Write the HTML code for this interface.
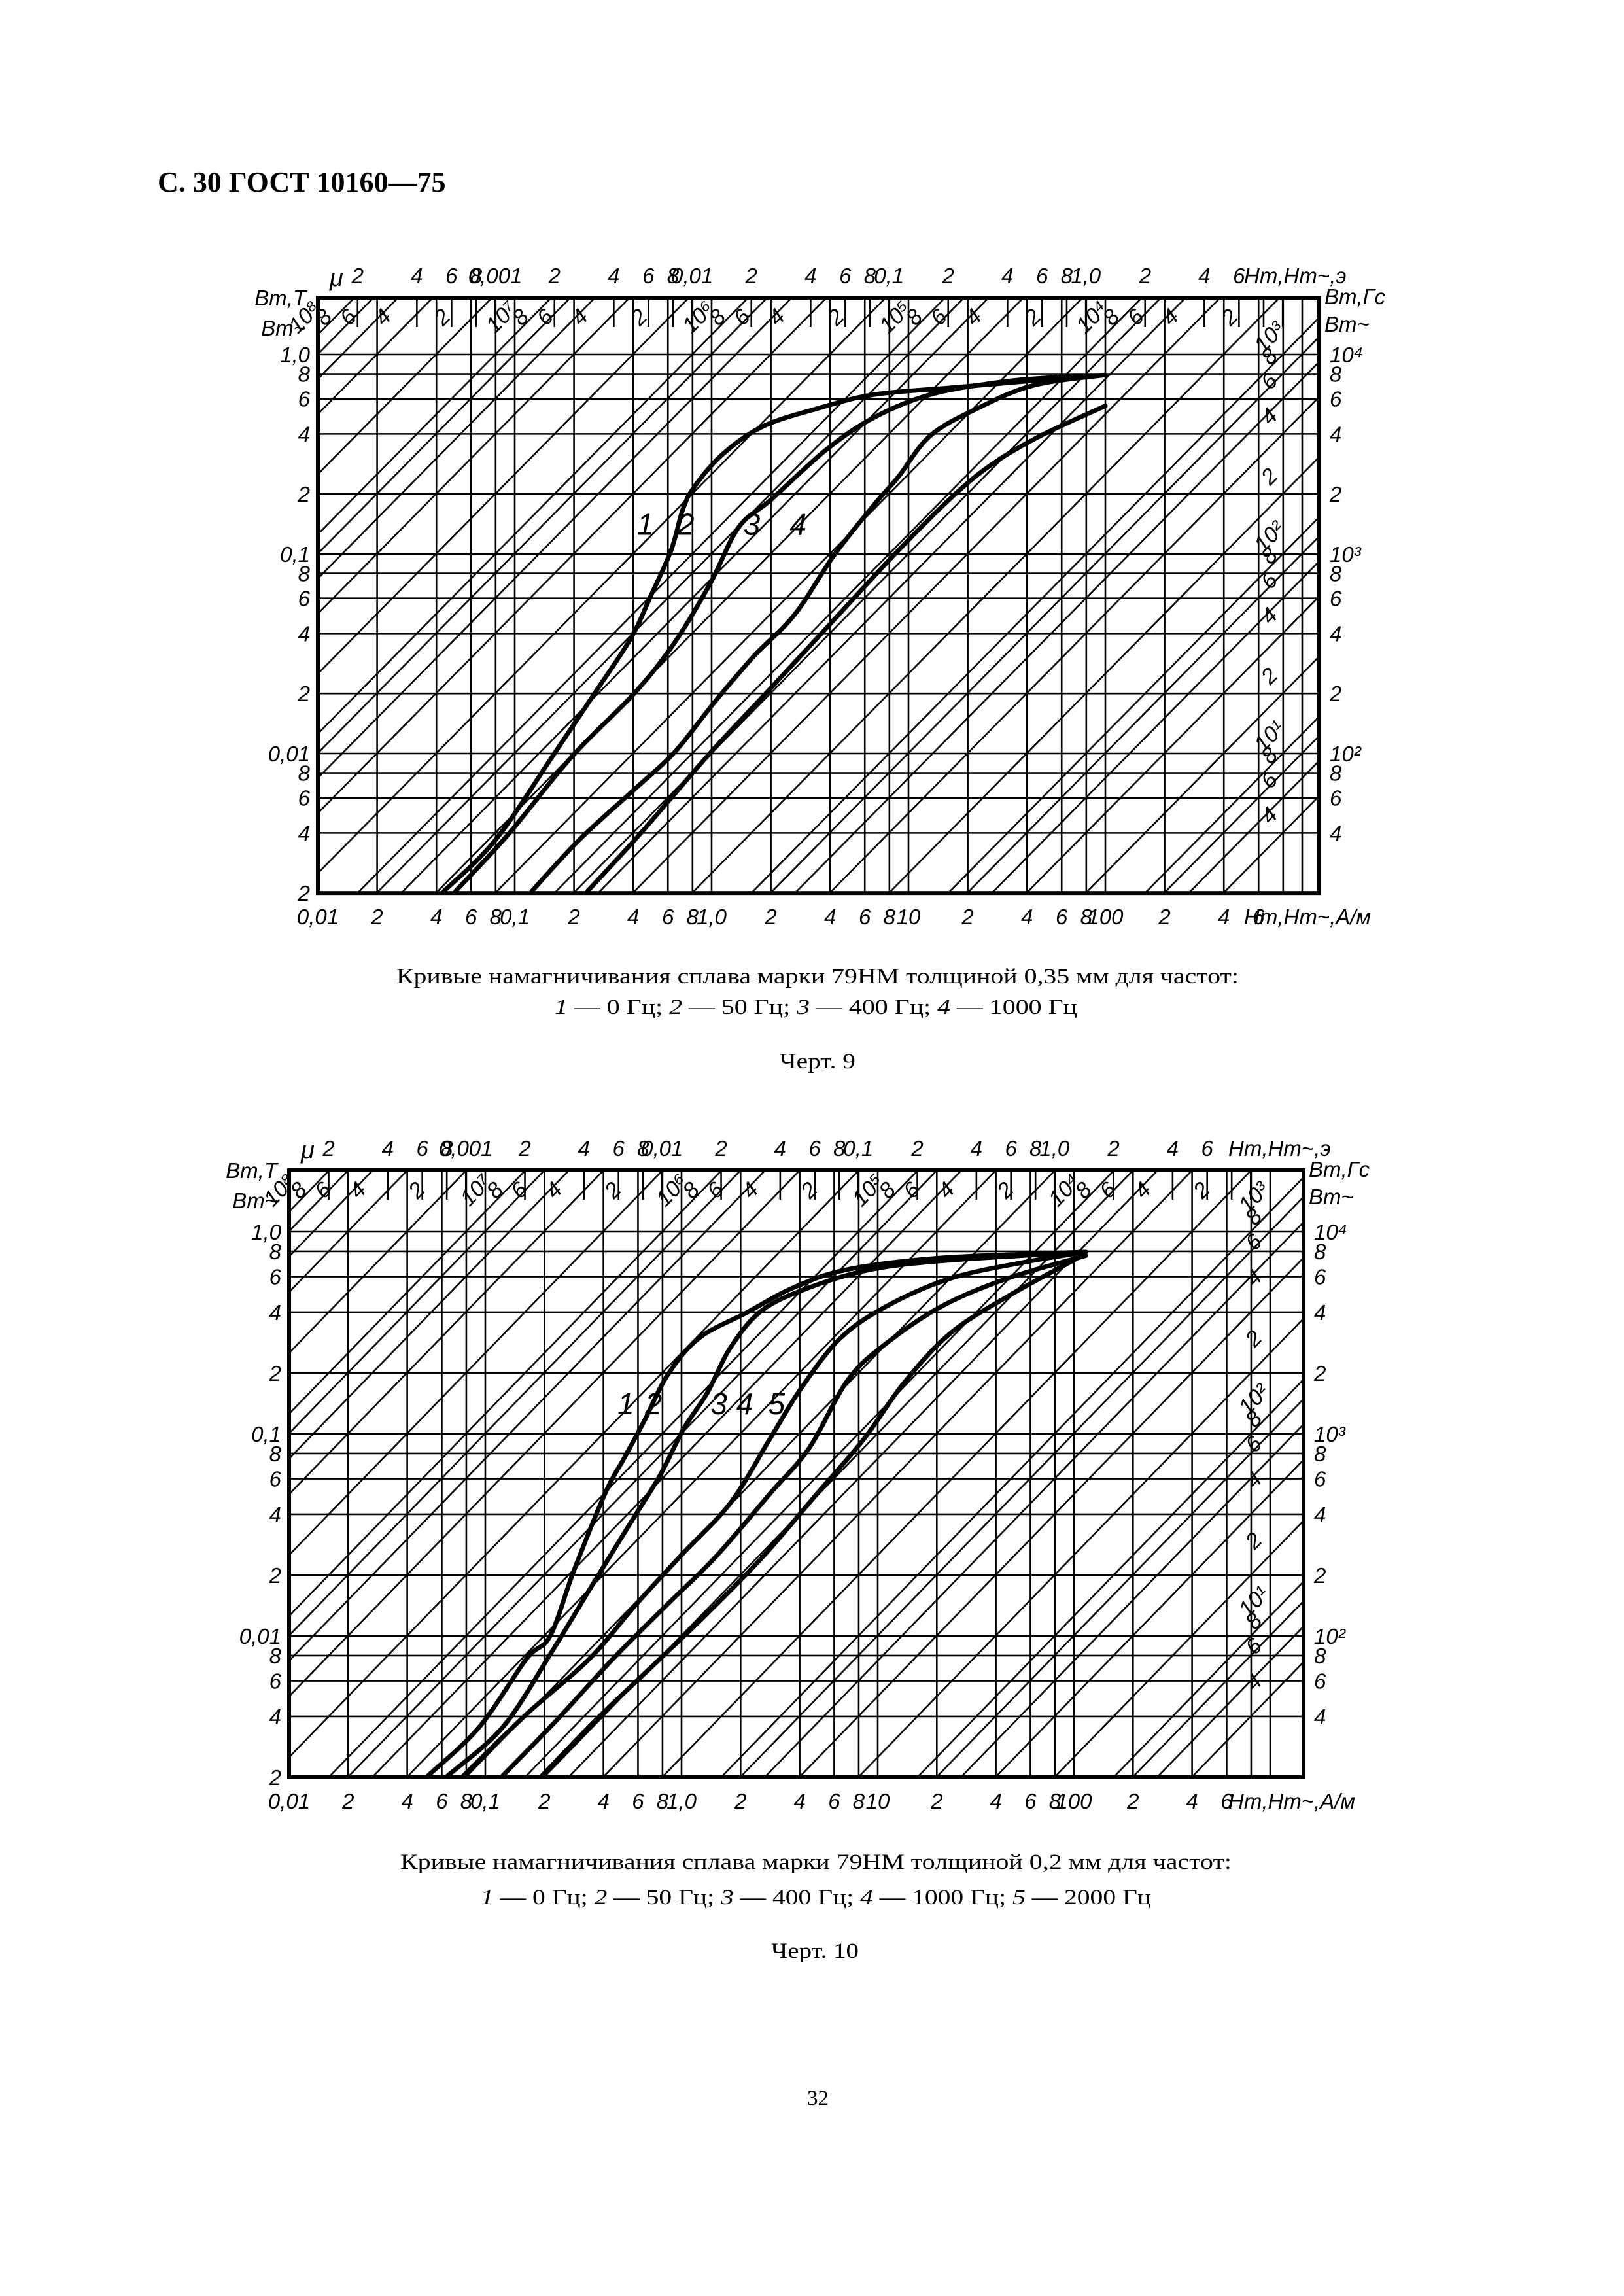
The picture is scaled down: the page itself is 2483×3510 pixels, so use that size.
<!DOCTYPE html>
<html><head><meta charset="utf-8">
<style>
html,body{margin:0;padding:0;background:#fff;}
svg{display:block;}
.ser{font-family:"Liberation Serif",serif;}
</style></head>
<body>
<svg id="page" width="2483" height="3510" viewBox="0 0 2483 3510" xmlns="http://www.w3.org/2000/svg">
<rect width="2483" height="3510" fill="#fff"/>
<text class="ser" x="241" y="293" font-size="44" font-weight="bold">С. 30 ГОСТ 10160—75</text>
<g id="chart1"></g>
<g id="chart2"></g>
<text class="ser" x="606" y="1503" font-size="33" textLength="1288" lengthAdjust="spacingAndGlyphs">Кривые намагничивания сплава марки 79НМ толщиной 0,35 мм для частот:</text>
<text class="ser" x="848" y="1550" font-size="33" textLength="799" lengthAdjust="spacingAndGlyphs"><tspan font-style="italic">1</tspan> — 0 Гц; <tspan font-style="italic">2</tspan> — 50 Гц; <tspan font-style="italic">3</tspan> — 400 Гц; <tspan font-style="italic">4</tspan> — 1000 Гц</text>
<text class="ser" x="1192" y="1633" font-size="33" textLength="116" lengthAdjust="spacingAndGlyphs">Черт. 9</text>
<text class="ser" x="612" y="2857" font-size="33" textLength="1271" lengthAdjust="spacingAndGlyphs">Кривые намагничивания сплава марки 79НМ толщиной 0,2 мм для частот:</text>
<text class="ser" x="735" y="2911" font-size="33" textLength="1025" lengthAdjust="spacingAndGlyphs"><tspan font-style="italic">1</tspan> — 0 Гц; <tspan font-style="italic">2</tspan> — 50 Гц; <tspan font-style="italic">3</tspan> — 400 Гц; <tspan font-style="italic">4</tspan> — 1000 Гц; <tspan font-style="italic">5</tspan> — 2000 Гц</text>
<text class="ser" x="1179" y="2993" font-size="33" textLength="134" lengthAdjust="spacingAndGlyphs">Черт. 10</text>
<text class="ser" x="1234" y="3218" font-size="33">32</text>
</svg>
<script>
// ---- Chart 9 data (H in A/m, B in T) ----
const c9_curve1_H = [0.0436,0.08,0.161,0.256,0.39,0.49,0.622,0.715,0.822,1.14,1.82,3.49,6.7,17,43,100];
const c9_curve1_B = [0.00204,0.0037,0.0102,0.0202,0.038,0.0615,0.104,0.168,0.219,0.317,0.436,0.538,0.63,0.683,0.74,0.79];
const c9_curve2_H = [0.05,0.092,0.194,0.408,0.651,0.99,1.37,2.0,3.83,6.7,12.9,27,47,100];
const c9_curve2_B = [0.00204,0.0039,0.0096,0.0202,0.0362,0.072,0.136,0.187,0.334,0.484,0.63,0.72,0.76,0.79];
const c9_curve3_H = [0.122,0.213,0.408,0.651,1.04,1.65,2.64,4.2,6.7,8.86,12.9,22.5,43,100];
const c9_curve3_B = [0.00204,0.0037,0.00665,0.0102,0.0182,0.031,0.0497,0.099,0.177,0.243,0.392,0.538,0.70,0.79];
const c9_curve4_H = [0.234,0.408,0.651,1.04,2.0,4.2,8.86,17,27,47,100];
const c9_curve4_B = [0.00204,0.0037,0.0063,0.0107,0.0213,0.047,0.104,0.197,0.285,0.392,0.553];
// ---- Chart 10 data ----
const c10_curve1_H = [0.0512,0.0933,0.162,0.214,0.282,0.407,0.513,0.646,0.851,1.23,2.14,3.72,7.08,21.4,115];
const c10_curve1_B = [0.00204,0.00355,0.0077,0.01,0.0209,0.0505,0.0766,0.116,0.196,0.298,0.397,0.529,0.652,0.743,0.794];
const c10_curve2_H = [0.0645,0.123,0.214,0.339,0.537,0.776,1.02,1.35,1.78,2.57,4.47,9.33,23.4,115];
const c10_curve2_B = [0.00204,0.00355,0.0081,0.0169,0.035,0.0622,0.105,0.159,0.268,0.408,0.529,0.652,0.723,0.794];
const c10_curve3_H = [0.0776,0.162,0.339,0.589,1.02,1.78,2.82,4.07,6.46,11.2,23.4,55,115];
const c10_curve3_B = [0.00204,0.0041,0.0077,0.0144,0.0257,0.0457,0.0944,0.168,0.298,0.43,0.587,0.705,0.794];
const c10_curve4_H = [0.123,0.235,0.447,0.851,1.48,2.82,4.47,7.08,11.2,21.4,45.7,115];
const c10_curve4_B = [0.00204,0.0039,0.0077,0.0144,0.0244,0.0505,0.085,0.186,0.283,0.43,0.587,0.762];
const c10_curve5_H = [0.195,0.372,0.776,1.35,2.57,4.9,8.51,13.5,23.4,45.7,105];
const c10_curve5_B = [0.00204,0.0039,0.0077,0.0129,0.0244,0.0505,0.0944,0.177,0.314,0.477,0.743];
// curve label anchors (H, B)
const c9_labelH = [0.46,0.74,1.6,2.75];
const c9_labelB = [0.125,0.125,0.125,0.125];
const c10_labelH = [0.52,0.72,1.55,2.1,3.05];
const c10_labelB = [0.125,0.125,0.125,0.125,0.125];
// tick labels
const bottomTickLabels = ["0,01","2","4","6","8","0,1","2","4","6","8","1,0","2","4","6","8","10","2","4","6","8","100","2","4","6"];
const topTickLabels = ["2","4","6","8","0,001","2","4","6","8","0,01","2","4","6","8","0,1","2","4","6","8","1,0","2","4","6"];
const leftTickLabels = ["1,0","8","6","4","2","0,1","8","6","4","2","0,01","8","6","4","2"];
const rightTickLabels = ["10⁴","8","6","4","2","10³","8","6","4","2","10²","8","6","4"];

const NS="http://www.w3.org/2000/svg";
function mk(parent,tag,attrs){const e=document.createElementNS(NS,tag);for(const k in attrs)e.setAttribute(k,attrs[k]);parent.appendChild(e);return e;}
const L10=Math.log10;

function drawChart(g,cfg,curvesH,curvesB,labH,labB){
  const X=h=>cfg.x0+L10(h/0.01)*cfg.dx;
  const Y=b=>cfg.y1-L10(b)*cfg.dy;
  const left=cfg.x0,right=cfg.right,top=cfg.top,bottom=Y(0.002);
  const Hmax=0.01*Math.pow(10,(right-left)/cfg.dx), Bmax=Math.pow(10,(cfg.y1-top)/cfg.dy);
  const clip='clip'+cfg.id;
  const defs=mk(g,'defs',{});const cp=mk(defs,'clipPath',{id:clip});mk(cp,'rect',{x:left,y:top,width:right-left,height:bottom-top});
  const grid=mk(g,'g',{'clip-path':'url(#'+clip+')',stroke:'#000','stroke-width':2.6,fill:'none'});
  
  
  const mants=[1,2,4,6,8];
  for(let k=-2;k<=3;k++)for(const m of mants){const h=m*Math.pow(10,k);if(h<=0.01||h>=Hmax)continue;const x=X(h);
    const l=mk(grid,'line',{x1:x,y1:top,x2:x,y2:bottom});
    
    }
  const bm=[1,0.8,0.6,0.4,0.2];
  for(let k=0;k>=-3;k--)for(const m of bm){const b=m*Math.pow(10,k);if(b<=0.002||b>=Bmax)continue;const y=Y(b);
    const l=mk(grid,'line',{x1:left,y1:y,x2:right,y2:y});
    
    }
  const mu0=4*Math.PI*1e-7;
  const u0=L10(0.01),u1=L10(Hmax),v0=L10(0.002),v1=L10(Bmax);
  const lab=mk(g,'g',{'font-family':'Liberation Sans, sans-serif','font-style':'italic','font-size':34,fill:'#000'});
  for(let e=0;e<=8;e++)for(const m of [1,8,6,4,2]){
    const mu=m*Math.pow(10,e); if(mu<4||mu>1e8)continue; if(m!==1&&e===8)continue;
    const c=L10(mu0*mu);
    const ua=Math.max(u0,v0-c),ub=Math.min(u1,v1-c); if(ua>=ub)continue;
    const xa=X(Math.pow(10,ua)),ya=Y(Math.pow(10,ua+c)),xb=X(Math.pow(10,ub)),yb=Y(Math.pow(10,ub+c));
    const l=mk(grid,'line',{x1:xa,y1:ya,x2:xb,y2:yb});
    
    
    const len=Math.hypot(xb-xa,yb-ya),ux=(xb-xa)/len,uy=(yb-ya)/len;
    const px=xb-ux*75+uy*22, py=yb-uy*75-ux*22;
    const ang=Math.atan2(yb-ya,xb-xa)*180/Math.PI;
    const t=mk(lab,'text',{x:px,y:py,'text-anchor':'middle',transform:`rotate(${ang} ${px} ${py})`});
    t.textContent = m===1 ? ('10'+['⁰','¹','²','³','⁴','⁵','⁶','⁷','⁸'][e]) : String(m);
    
    
  }
  const oeTicks=[];for(let k=-4;k<=1;k++)for(const m of mants){const oe=m*Math.pow(10,k);const h=oe*79.577;if(h<=0.012||h>=Hmax)continue;oeTicks.push(h);}
  oeTicks.forEach(h=>{const x=X(h);const l=mk(g,'line',{x1:x,y1:top,x2:x,y2:top+45,stroke:'#000','stroke-width':2.6});
    
    });
  const box=mk(g,'rect',{x:left,y:top,width:right-left,height:bottom-top,fill:'none',stroke:'#000','stroke-width':6});
  
  
  const cg=mk(g,'g',{'clip-path':'url(#'+clip+')',fill:'none',stroke:'#000','stroke-width':7,'stroke-linecap':'round','stroke-linejoin':'round'});
  curvesH.forEach((H,i)=>{const B=curvesB[i];
    const pts=H.map((h,j)=>[X(h),Y(B[j])]);
    let d='M'+pts[0][0]+','+pts[0][1];
    for(let j=0;j<pts.length-1;j++){const p0=pts[j-1]||pts[j],p1=pts[j],p2=pts[j+1],p3=pts[j+2]||p2;
      d+=` C${p1[0]+(p2[0]-p0[0])/6},${p1[1]+(p2[1]-p0[1])/6} ${p2[0]-(p3[0]-p1[0])/6},${p2[1]-(p3[1]-p1[1])/6} ${p2[0]},${p2[1]}`;}
    const p=mk(cg,'path',{d:d});
    
    
    const t=mk(g,'text',{x:X(labH[i]),y:Y(labB[i]),'font-family':'Liberation Sans, sans-serif','font-style':'italic','font-size':46,'text-anchor':'middle'});
    t.textContent=String(i+1);
    
    
  });
  const ax=mk(g,'g',{'font-family':'Liberation Sans, sans-serif','font-style':'italic','font-size':33,fill:'#000'});
  let idx=0;
  for(let k=-2;k<=3;k++)for(const m of mants){const h=m*Math.pow(10,k);if(h<0.01||h>=Hmax)continue;
    if(idx>=bottomTickLabels.length)break;
    const t=mk(ax,'text',{x:X(h),y:bottom+48,'text-anchor':'middle'});t.textContent=bottomTickLabels[idx++];
    
    }
  let tb=mk(ax,'text',{x:right-115,y:bottom+48});tb.textContent='Hm,Hm~,A/м';
  
  
  idx=0;
  for(let k=-4;k<=1;k++)for(const m of mants){const oe=m*Math.pow(10,k);const h=oe*79.577;if(h<=0.012||h>=Hmax-100)continue;
    if(idx>=topTickLabels.length)break;
    const t=mk(ax,'text',{x:X(h),y:top-22,'text-anchor':'middle'});t.textContent=topTickLabels[idx++];
    
    }
  let tt=mk(ax,'text',{x:right-115,y:top-22});tt.textContent='Hm,Hm~,э';
  
  
  let mu=mk(ax,'text',{x:left+18,y:top-18,'font-size':38});mu.textContent='μ';
  
  
  idx=0;
  for(let k=0;k>=-2;k--)for(const m of bm){const b=m*Math.pow(10,k);
    const t=mk(ax,'text',{x:left-12,y:Y(b)+12,'text-anchor':'end'});t.textContent=leftTickLabels[idx++];
    
    }
  let ya=mk(ax,'text',{x:left-18,y:top+12,'text-anchor':'end'});ya.textContent='Bm,T';
  
  
  let ya2=mk(ax,'text',{x:left-18,y:top+58,'text-anchor':'end'});ya2.textContent='Bm~';
  
  
  idx=0;
  for(let k=0;k>=-2;k--)for(const m of bm){const b=m*Math.pow(10,k);if(idx>=rightTickLabels.length)break;
    const t=mk(ax,'text',{x:right+16,y:Y(b)+12});t.textContent=rightTickLabels[idx++];
    
    }
  let rt=mk(ax,'text',{x:right+8,y:top+10});rt.textContent='Bm,Гс';
  
  
  let rt2=mk(ax,'text',{x:right+8,y:top+52});rt2.textContent='Bm~';
  
  
}
drawChart(document.getElementById('chart1'),{id:1,x0:486,dx:301,right:2017,y1:542,dy:305,top:455},
  [c9_curve1_H,c9_curve2_H,c9_curve3_H,c9_curve4_H],[c9_curve1_B,c9_curve2_B,c9_curve3_B,c9_curve4_B],c9_labelH,c9_labelB);
drawChart(document.getElementById('chart2'),{id:2,x0:442,dx:300,right:1993,y1:1883,dy:309,top:1789},
  [c10_curve1_H,c10_curve2_H,c10_curve3_H,c10_curve4_H,c10_curve5_H],[c10_curve1_B,c10_curve2_B,c10_curve3_B,c10_curve4_B,c10_curve5_B],c10_labelH,c10_labelB);
</script>
</body></html>
